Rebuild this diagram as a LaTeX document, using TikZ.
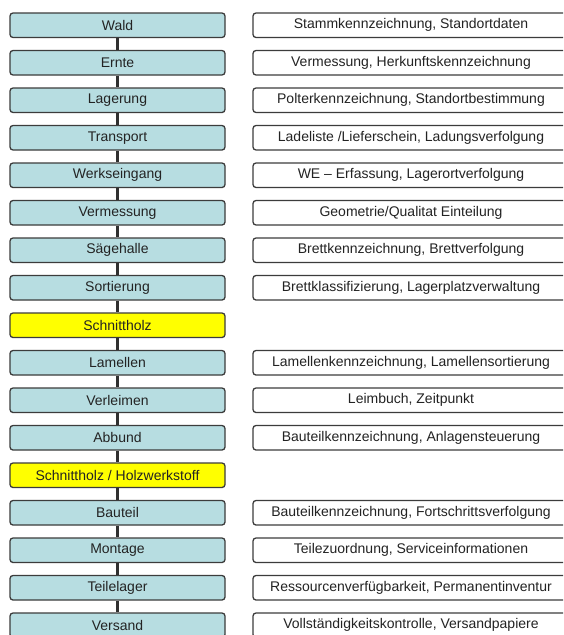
\documentclass[tikz,border=0pt]{standalone}
\usepackage{fontspec}
\setmainfont{Liberation Sans}
\definecolor{boxblue}{RGB}{183,221,225}
\definecolor{boxyellow}{RGB}{255,255,0}
\definecolor{edgegray}{RGB}{60,60,60}
\definecolor{txtgray}{RGB}{35,35,35}
\tikzset{
  stage/.style={draw=edgegray, line width=1.3pt, rounded corners=3pt, fill=boxblue,
    minimum width=215pt, minimum height=24.5pt, inner sep=0pt, text=txtgray,
    font=\fontsize{14}{16}\selectfont},
  hilite/.style={stage, fill=boxyellow},
  info/.style={draw=edgegray, line width=1.3pt, rounded corners=3pt, fill=white,
    minimum width=316pt, minimum height=24.5pt, inner sep=0pt, text=txtgray,
    font=\fontsize{14}{16}\selectfont},
  link/.style={draw=edgegray!80!black, line width=3pt}
}
\begin{document}
\begin{tikzpicture}[x=1pt,y=-1pt]
\clip (0,0) rectangle (563,635);
\fill[white] (0,0) rectangle (563,635);
\foreach \i/\s/\t/\r in {
  0/stage/Wald/{Stammkennzeichnung, Standortdaten},
  1/stage/Ernte/{Vermessung, Herkunftskennzeichnung},
  2/stage/Lagerung/{Polterkennzeichnung, Standortbestimmung},
  3/stage/Transport/{Ladeliste /Lieferschein, Ladungsverfolgung},
  4/stage/Werkseingang/{WE -- Erfassung, Lagerortverfolgung},
  5/stage/Vermessung/{Geometrie/Qualitat Einteilung},
  6/stage/Sägehalle/{Brettkennzeichnung, Brettverfolgung},
  7/stage/Sortierung/{Brettklassifizierung, Lagerplatzverwaltung},
  8/hilite/Schnittholz/{},
  9/stage/Lamellen/{Lamellenkennzeichnung, Lamellensortierung},
  10/stage/Verleimen/{Leimbuch, Zeitpunkt},
  11/stage/Abbund/{Bauteilkennzeichnung, Anlagensteuerung},
  12/hilite/{Schnittholz / Holzwerkstoff}/{},
  13/stage/Bauteil/{Bauteilkennzeichnung, Fortschrittsverfolgung},
  14/stage/Montage/{Teilezuordnung, Serviceinformationen},
  15/stage/Teilelager/{Ressourcenverfügbarkeit, Permanentinventur},
  16/stage/Versand/{Vollständigkeitskontrolle, Versandpapiere}} {
  \node[\s] (s\i) at (117.5, 25.25+37.5*\i) {\t};
  \ifx\r\empty\else
    \node[info] (r\i) at (411, 25.25+37.5*\i) {\r};
  \fi
}
\foreach \i [evaluate=\i as \j using int(\i+1)] in {0,...,15}
  \draw[link] (s\i.south) -- (s\j.north);
\end{tikzpicture}
\end{document}
